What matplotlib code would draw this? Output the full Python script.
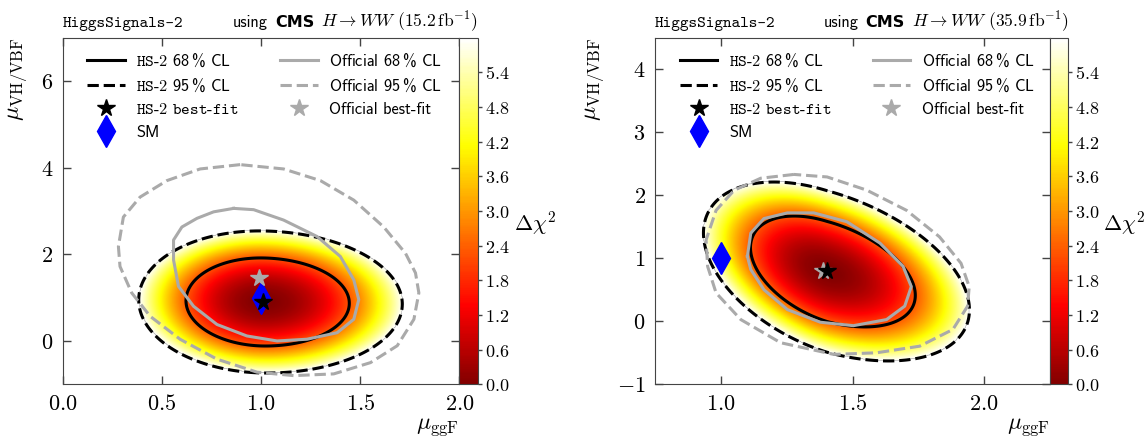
import numpy as np
import matplotlib
matplotlib.use("Agg")
import matplotlib.pyplot as plt
from matplotlib.colors import LinearSegmentedColormap
from matplotlib.lines import Line2D
from matplotlib.offsetbox import TextArea, HPacker, AnchoredOffsetbox
from matplotlib.ticker import FuncFormatter, FixedLocator

plt.rcParams["mathtext.fontset"] = "cm"

# HiggsSignals-2 fit results: best fit (mu_ggF, mu_VH/VBF),
# widths in mu_ggF (below / above best fit), width in mu_VH/VBF, correlation
hs_best_15 = [1.01, 0.90]
hs_sigma_ggf_15 = [0.256, 0.287]
hs_sigma_vh_15 = 0.670
hs_rho_15 = -0.03

hs_best_36 = [1.403, 0.79]
hs_sigma_ggf_36 = [0.192, 0.221]
hs_sigma_vh_36 = 0.580
hs_rho_36 = -0.43

# official CMS best fit points
off_best_15 = [0.99, 1.46]
off_best_36 = [1.388, 0.80]

sm_point = [1.0, 1.0]

# official CMS contours, 15.2 fb^-1
off68_15_x = [0.862, 0.963, 1.114, 1.283, 1.400, 1.468, 1.493, 1.468, 1.384, 1.232,
              1.081, 0.929, 0.778, 0.660, 0.584, 0.559, 0.559, 0.601, 0.677, 0.761]
off68_15_y = [3.06, 3.03, 2.79, 2.41, 1.95, 1.41, 0.955, 0.50, 0.19, 0.04,
              0.00, 0.115, 0.38, 0.80, 1.26, 1.87, 2.33, 2.63, 2.83, 2.98]
off95_15_x = [0.895, 0.693, 0.525, 0.390, 0.306, 0.281, 0.289, 0.348, 0.441, 0.592,
              0.778, 0.980, 1.165, 1.367, 1.552, 1.687, 1.771, 1.796, 1.779, 1.729,
              1.619, 1.468, 1.300, 1.114]
off95_15_y = [4.07, 3.97, 3.70, 3.32, 2.86, 2.18, 1.72, 1.11, 0.57, 0.04,
              -0.42, -0.72, -0.80, -0.76, -0.50, -0.11, 0.50, 1.11, 1.57, 2.02,
              2.63, 3.25, 3.70, 3.97]

# official CMS contours, 35.9 fb^-1
off68_36_x = [1.100, 1.113, 1.163, 1.252, 1.352, 1.478, 1.604, 1.692, 1.723, 1.698,
              1.629, 1.503, 1.377, 1.252, 1.163, 1.113]
off68_36_y = [1.03, 1.40, 1.63, 1.72, 1.72, 1.58, 1.24, 0.87, 0.55, 0.24,
              0.027, -0.07, -0.015, 0.185, 0.50, 0.82]
off95_36_x = [1.277, 1.151, 1.050, 0.981, 0.943, 0.949, 0.981, 1.075, 1.226, 1.428,
              1.591, 1.755, 1.881, 1.937, 1.943, 1.912, 1.830, 1.705, 1.554, 1.403]
off95_36_y = [2.33, 2.27, 2.08, 1.76, 1.29, 0.87, 0.45, 0.027, -0.34, -0.526,
              -0.50, -0.395, -0.13, 0.24, 0.55, 0.92, 1.34, 1.76, 2.08, 2.29]

cl_levels = [2.30, 5.99]
cbar_ticks = [0.0, 0.6, 1.2, 1.8, 2.4, 3.0, 3.6, 4.2, 4.8, 5.4]

hot = plt.get_cmap("hot")
cmap = LinearSegmentedColormap.from_list("hot_part", hot(np.linspace(0.18, 1.0, 256)))

GRAY = "#aaaaaa"
SPINE = "#444444"
LW = 2.2


def delta_chi2(X, Y, best, sig_ggf, sig_vh, rho):
    dx = X - best[0]
    u = np.where(dx < 0, dx / sig_ggf[0], dx / sig_ggf[1])
    v = (Y - best[1]) / sig_vh
    return (u**2 - 2 * rho * u * v + v**2) / (1 - rho**2)


def closed(v):
    return list(v) + [v[0]]


def draw_panel(ax, cax, xlim, ylim, xticks, yticks, best, sig_ggf, sig_vh, rho,
               off_best, o68x, o68y, o95x, o95y):
    xs = np.linspace(xlim[0], xlim[1], 600)
    ys = np.linspace(ylim[0], ylim[1], 600)
    X, Y = np.meshgrid(xs, ys)
    chi2 = delta_chi2(X, Y, best, sig_ggf, sig_vh, rho)
    im = ax.imshow(np.ma.masked_greater(chi2, 6.0), origin="lower", cmap=cmap,
                   vmin=0, vmax=6, extent=(xlim[0], xlim[1], ylim[0], ylim[1]),
                   aspect="auto", interpolation="bilinear", zorder=1)
    ax.contour(X, Y, chi2, levels=cl_levels, colors="black",
               linestyles=["solid", "dashed"], linewidths=LW, zorder=2)
    ax.plot(closed(o68x), closed(o68y), color=GRAY, lw=LW, zorder=3)
    ax.plot(closed(o95x), closed(o95y), color=GRAY, lw=LW, ls="--", zorder=3)
    ax.plot(*sm_point, marker="d", color="blue", ms=16, ls="none", zorder=4)
    ax.plot(*off_best, marker="*", color=GRAY, ms=13, ls="none", zorder=5)
    ax.plot(*best, marker="*", color="black", ms=13, ls="none", zorder=6)

    ax.set_xlim(xlim)
    ax.set_ylim(ylim)
    ax.xaxis.set_major_locator(FixedLocator(xticks))
    ax.yaxis.set_major_locator(FixedLocator(yticks))
    ax.xaxis.set_major_formatter(FuncFormatter(lambda v, p: f"${v:.1f}$"))
    ax.yaxis.set_major_formatter(FuncFormatter(lambda v, p: f"${v:.0f}$"))
    ax.tick_params(direction="in", top=True, right=True, length=6, width=1,
                   color=SPINE, labelsize=16, pad=7)
    for s in ax.spines.values():
        s.set_color(SPINE)
    ax.set_xlabel(r"$\mu_{\mathrm{ggF}}$", loc="right", fontsize=17, labelpad=0)
    ax.set_ylabel(r"$\mu_{\mathrm{VH/VBF}}$", loc="top", fontsize=17, labelpad=8)

    handles = [
        Line2D([], [], color="black", lw=LW),
        Line2D([], [], color="black", lw=LW, ls="--"),
        Line2D([], [], color="black", marker="*", ms=13, ls="none"),
        Line2D([], [], color="blue", marker="d", ms=16, ls="none"),
        Line2D([], [], color=GRAY, lw=LW),
        Line2D([], [], color=GRAY, lw=LW, ls="--"),
        Line2D([], [], color=GRAY, marker="*", ms=13, ls="none"),
    ]
    labels = [
        r"$\mathtt{HS}$-$\mathtt{2}$ 68$\,$% CL",
        r"$\mathtt{HS}$-$\mathtt{2}$ 95$\,$% CL",
        r"$\mathtt{HS}$-$\mathtt{2}$ $\mathtt{best}$-$\mathtt{fit}$",
        "SM",
        r"Official 68$\,$% CL",
        r"Official 95$\,$% CL",
        "Official best-fit",
    ]
    ax.legend(handles, labels, ncol=2, loc="upper left", bbox_to_anchor=(0.062, 0.96),
              frameon=False, borderpad=0, borderaxespad=0, handlelength=2.3,
              handletextpad=0.7, columnspacing=2.5, labelspacing=0.48,
              prop=dict(family=["cmss10", "DejaVu Sans"], size=11.8))

    cb = plt.colorbar(im, cax=cax, ticks=cbar_ticks)
    cb.outline.set_edgecolor(SPINE)
    cax.yaxis.set_major_formatter(FuncFormatter(lambda v, p: f"${v:.1f}$"))
    cax.tick_params(direction="out", length=3, width=1, color=SPINE,
                    labelsize=13, pad=2)
    cax.text(2.97, 0.465, r"$\Delta\chi^2$", transform=cax.transAxes,
             ha="left", va="center", fontsize=15.8)


def header(fig, x0, x1, y, lumi):
    fig.text(x0, y, "HiggsSignals-2", family="cmtt10", fontsize=11.8, va="baseline")
    parts = [
        TextArea("using", textprops=dict(family="cmss10", size=11.7)),
        TextArea("CMS", textprops=dict(family="DejaVu Sans", weight="bold", size=11.5)),
        TextArea(rf"$H \to WW\ ({lumi}\,\mathrm{{fb}}^{{-1}})$", textprops=dict(size=12.6)),
    ]
    box = HPacker(children=parts, align="baseline", pad=0, sep=5)
    ab = AnchoredOffsetbox(loc="lower right", child=box, pad=0, borderpad=0,
                           frameon=False, bbox_to_anchor=(x1, y - 0.018),
                           bbox_transform=fig.transFigure)
    fig.add_artist(ab)


fig = plt.figure(figsize=(11.46, 4.36), dpi=100)

ax1 = fig.add_axes([0.0547, 0.1186, 0.3461, 0.795])
cax1 = fig.add_axes([0.4008, 0.1186, 0.0160, 0.795])
ax2 = fig.add_axes([0.5718, 0.1186, 0.3444, 0.795])
cax2 = fig.add_axes([0.9162, 0.1186, 0.0157, 0.795])

draw_panel(ax1, cax1, (0.0, 2.0), (-1.0, 7.0), [0.0, 0.5, 1.0, 1.5, 2.0], [0, 2, 4, 6],
           hs_best_15, hs_sigma_ggf_15, hs_sigma_vh_15, hs_rho_15, off_best_15,
           off68_15_x, off68_15_y, off95_15_x, off95_15_y)
draw_panel(ax2, cax2, (0.75, 2.25), (-1.0, 4.5), [1.0, 1.5, 2.0], [-1, 0, 1, 2, 3, 4],
           hs_best_36, hs_sigma_ggf_36, hs_sigma_vh_36, hs_rho_36, off_best_36,
           off68_36_x, off68_36_y, off95_36_x, off95_36_y)

header(fig, 0.0547, 0.4168, 0.939, "15.2")
header(fig, 0.5716, 0.9319, 0.939, "35.9")

fig.savefig("out.png", dpi=100)
